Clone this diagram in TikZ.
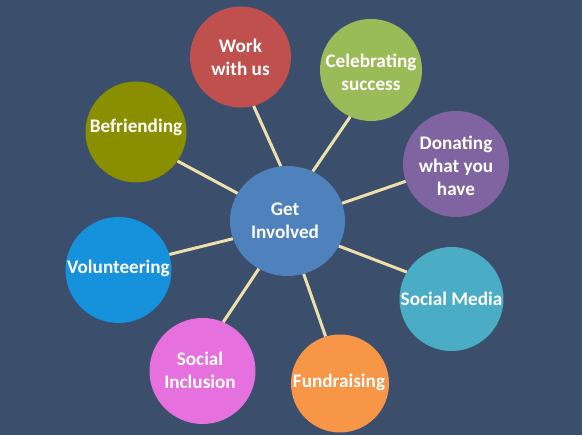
\documentclass[tikz,border=0pt]{standalone}
\usepackage{fontspec}
\setmainfont{Carlito}
\usetikzlibrary{shapes.geometric}
\definecolor{bgc}{HTML}{3B4F6D}
\definecolor{linkc}{HTML}{EDE0AA}
\definecolor{getc}{HTML}{4F81BD}
\definecolor{workc}{HTML}{C0504D}
\definecolor{celc}{HTML}{9BBB59}
\definecolor{donc}{HTML}{8064A2}
\definecolor{smc}{HTML}{4BACC6}
\definecolor{fundc}{HTML}{F79646}
\definecolor{incc}{HTML}{E770DF}
\definecolor{volc}{HTML}{1592DB}
\definecolor{befc}{HTML}{8A8F00}
\begin{document}
\begin{tikzpicture}[x=1pt,y=1pt,
  bubble/.style={circle, inner sep=0pt, minimum size=#1, draw=none},
  lbl/.style={text=white, font=\bfseries\fontsize{19.2}{23}\selectfont, align=center, inner sep=0pt},
  link/.style={draw=linkc, line width=3pt}]
\fill[bgc] (0,0) rectangle (582,435);
\useasboundingbox (0,0) rectangle (582,435);
% bubbles
\node[ellipse, inner sep=0pt, minimum width=115pt, minimum height=110pt, fill=getc] (get) at (287.5,214) {};
\node[bubble=101pt, fill=workc] (work) at (240.5,378) {};
\node[bubble=102pt, fill=celc] (cel) at (371,365) {};
\node[bubble=106pt, fill=donc] (don) at (456,271) {};
\node[bubble=104pt, fill=smc] (sm) at (451.5,136) {};
\node[bubble=98pt, fill=fundc] (fund) at (340,51.5) {};
\node[bubble=106pt, fill=incc] (inc) at (202.5,64) {};
\node[bubble=106pt, fill=volc] (vol) at (118.5,165) {};
\node[bubble=101pt, fill=befc] (bef) at (136,303) {};
% links
\draw[link] (work.285) -- (get.97);
\draw[link] (cel.246.6) -- (get.63.4);
\draw[link] (bef.325) -- (get.151.8);
\draw[link] (vol.17.6) -- (get.198.3);
\draw[link] (inc.67) -- (get.239.7);
\draw[link] (fund.107.5) -- (get.287.9);
\draw[link] (don.199.5) -- (get.18.6);
\draw[link] (sm.149.4) -- (get.334.6);
% labels
\node[lbl] (tget) at (285,214) {Get\\Involved};
\node[lbl] (twork) at (240.5,378) {Work\\with us};
\node[lbl] (tcel) at (371,363) {Celebrating\\success};
\node[lbl] (tdon) at (456,269) {Donating\\what you\\have};
\node[lbl] (tsm) at (451.5,136) {Social Media};
\node[lbl] (tfund) at (339,53) {Fundraising};
\node[lbl] (tinc) at (200,65) {Social\\Inclusion};
\node[lbl] (tvol) at (118.5,167) {Volunteering};
\node[lbl] (tbef) at (136,308) {Befriending};
\end{tikzpicture}
\end{document}
